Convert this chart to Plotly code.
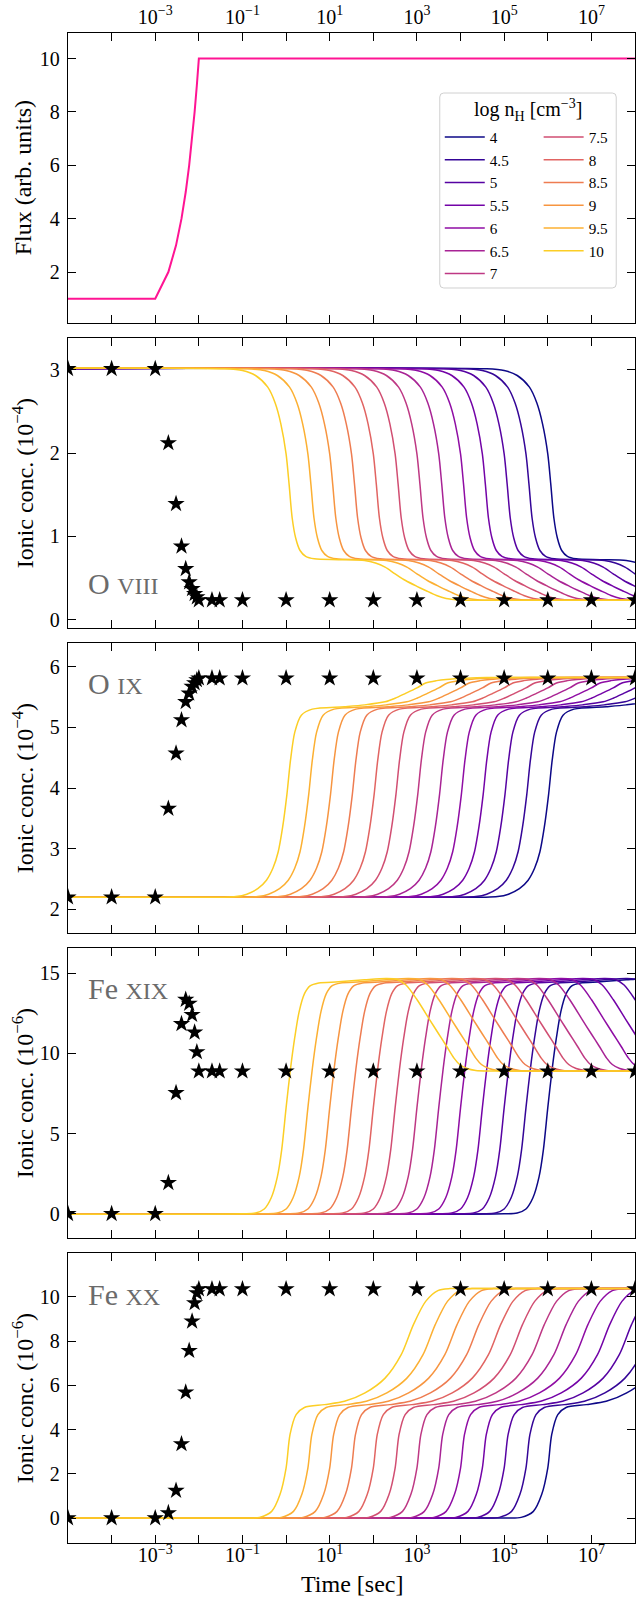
import plotly.graph_objects as go

FONT = "Liberation Serif"
W, H = 636, 1601
L, R, T, B = 67.7, 635.5, 33.3, 1543.3
PANEL_H, PANEL_GAP = 290.0, 15.0

# densities and their line colours (plasma)
log_nH = [4, 4.5, 5, 5.5, 6, 6.5, 7, 7.5, 8, 8.5, 9, 9.5, 10]
line_colors = ["#0d0887", "#340597", "#5602a2", "#7303a7", "#8f0da4", "#a82395",
               "#be3884", "#d14e72", "#e16462", "#ee7c51", "#f79540", "#fcb032", "#fcce25"]
REF_LOG_NH = 10  # profiles below are tabulated for log nH = 10; time scales as 1/n

# snapshot times (flux steps and equilibrium points)
snap_t = [1e-5, 1e-4, 1e-3, 2e-3, 3e-3, 4e-3, 5e-3, 6e-3, 7e-3, 8e-3, 9e-3, 1e-2,
          2e-2, 3e-2, 1e-1, 1e0, 1e1, 1e2, 1e3, 1e4, 1e5, 1e6, 1e7, 1e8]
flux = [1, 1, 1, 2, 3, 4, 5, 6, 7, 8, 9, 10,
        10, 10, 10, 10, 10, 10, 10, 10, 10, 10, 10, 10]

# equilibrium concentrations at the snapshot times
eq_o8 = [3.01, 3.01, 3.01, 2.12, 1.39, 0.88, 0.61, 0.45, 0.37, 0.31, 0.27, 0.235,
         0.235, 0.235, 0.235, 0.235, 0.235, 0.235, 0.235, 0.235, 0.235, 0.235, 0.235, 0.235]
eq_o9 = [2.2, 2.2, 2.2, 3.66, 4.57, 5.12, 5.42, 5.56, 5.67, 5.73, 5.78, 5.81,
         5.81, 5.81, 5.81, 5.81, 5.81, 5.81, 5.81, 5.81, 5.81, 5.81, 5.81, 5.81]
eq_fe19 = [0.0, 0.0, 0.0, 1.93, 7.53, 11.83, 13.34, 13.1, 12.4, 11.3, 10.08, 8.88,
           8.88, 8.88, 8.88, 8.88, 8.88, 8.88, 8.88, 8.88, 8.88, 8.88, 8.88, 8.88]
eq_fe20 = [0.0, 0.0, 0.0, 0.23, 1.24, 3.35, 5.69, 7.57, 8.9, 9.73, 10.18, 10.36,
           10.36, 10.36, 10.36, 10.36, 10.36, 10.36, 10.36, 10.36, 10.36, 10.36, 10.36, 10.36]

# time-dependent concentrations at log nH = 10 (log10 t [s], value)
o8_logt = [-11, -1.4, -1.0, -0.7, -0.42, -0.25, -0.12, 0.0, 0.07, 0.14, 0.22, 0.32, 0.45,
           0.65, 1.2, 1.8, 2.05, 2.27, 2.5, 2.74, 3.0, 3.2, 3.45, 3.67, 3.94, 4.4, 8.6]
o8_val = [3.01, 3.01, 2.99, 2.93, 2.79, 2.6, 2.35, 1.99, 1.62, 1.22, 0.98, 0.83, 0.76,
          0.73, 0.72, 0.71, 0.68, 0.63, 0.55, 0.47, 0.4, 0.35, 0.29, 0.255, 0.237, 0.233, 0.233]

o9_logt = [-11, -1.5, -1.15, -0.9, -0.65, -0.45, -0.3, -0.18, -0.08, 0.02, 0.1, 0.2,
           0.35, 0.6, 1.34, 1.8, 2.27, 2.5, 2.74, 3.0, 3.2, 3.45, 3.67, 4.13, 4.6, 8.6]
o9_val = [2.2, 2.2, 2.21, 2.25, 2.34, 2.48, 2.68, 2.95, 3.35, 3.9, 4.45, 4.92,
          5.2, 5.3, 5.34, 5.37, 5.42, 5.48, 5.56, 5.65, 5.73, 5.77, 5.79, 5.81, 5.82, 5.82]

fe19_logt = [-11, -1.0, -0.7, -0.5, -0.34, -0.2, -0.1, 0.0, 0.1, 0.2, 0.3, 0.42, 0.55,
             0.75, 1.2, 1.8, 2.3, 2.55, 2.75, 3.0, 3.29, 3.5, 3.68, 3.85, 3.98, 4.15,
             4.35, 4.7, 8.6]
fe19_val = [0.0, 0.0, 0.05, 0.3, 1.0, 2.3, 4.0, 6.6, 9.0, 11.0, 12.6, 13.7, 14.2,
            14.38, 14.45, 14.58, 14.66, 14.6, 14.25, 13.35, 12.1, 11.2, 10.44, 9.7, 9.3, 9.05,
            8.93, 8.9, 8.9]

fe20_logt = [-11, -1.0, -0.61, -0.33, -0.14, 0.0, 0.09, 0.23, 0.42, 0.88, 1.34, 1.81,
             2.27, 2.64, 2.92, 3.2, 3.48, 3.76, 4.3, 8.6]
fe20_val = [0.0, 0.0, 0.03, 0.3, 1.06, 2.26, 3.77, 4.68, 5.0, 5.13, 5.28, 5.66,
            6.33, 7.39, 8.75, 9.8, 10.29, 10.38, 10.38, 10.38]

panels = [
    dict(title="Flux (arb. units)", yrange=[0.09, 10.96], ticks=[2, 4, 6, 8, 10]),
    dict(title="Ionic conc. (10<sup>−4</sup>)", yrange=[-0.1, 3.38], ticks=[0, 1, 2, 3],
         ion="O", stage="VIII", logt=o8_logt, val=o8_val, eq=eq_o8, label_y=583.5),
    dict(title="Ionic conc. (10<sup>−4</sup>)", yrange=[1.61, 6.39], ticks=[2, 3, 4, 5, 6],
         ion="O", stage="IX", logt=o9_logt, val=o9_val, eq=eq_o9, label_y=683.5),
    dict(title="Ionic conc. (10<sup>−6</sup>)", yrange=[-1.51, 16.56], ticks=[0, 5, 10, 15],
         ion="Fe", stage="XIX", logt=fe19_logt, val=fe19_val, eq=eq_fe19, label_y=988.5),
    dict(title="Ionic conc. (10<sup>−6</sup>)", yrange=[-1.13, 11.99], ticks=[0, 2, 4, 6, 8, 10],
         ion="Fe", stage="XX", logt=fe20_logt, val=fe20_val, eq=eq_fe20, label_y=1294.5),
]

major_dec = [-3, -1, 1, 3, 5, 7]       # labelled decades
minor_dec = [-4, -2, 0, 2, 4, 6]       # unlabelled decade ticks


def px(xp, yp):
    """pixel position -> paper coordinates"""
    return (xp - L) / (R - L), 1 - (yp - T) / (B - T)


def fmt(n):
    return f"{n:g}"


fig = go.Figure()

axis_style = dict(showline=True, linecolor="black", linewidth=1.3, mirror="allticks",
                  ticks="inside", ticklen=8, tickwidth=1.1, tickcolor="black",
                  showgrid=False, zeroline=False,
                  tickfont=dict(family=FONT, size=20, color="black"))

layout = {}
for i, p in enumerate(panels):
    k = "" if i == 0 else str(i + 1)
    top = T + i * (PANEL_H + PANEL_GAP)
    d0 = 1 - (top + PANEL_H - T) / (B - T)
    d1 = 1 - (top - T) / (B - T)
    xa = dict(axis_style, type="log", range=[-5, 8], domain=[0, 1], anchor="y" + k,
              tickmode="array", tickvals=[10.0 ** e for e in major_dec],
              ticktext=[f"10<sup>{'−' if e < 0 else ''}{abs(e)}</sup>" for e in major_dec],
              minor=dict(tickmode="array", tickvals=[10.0 ** e for e in minor_dec],
                         ticks="inside", ticklen=8, tickwidth=1.1, tickcolor="black",
                         showgrid=False))
    if i == 0:
        xa["side"] = "top"
        xa["ticklabelstandoff"] = 0
    elif i < len(panels) - 1:
        xa["showticklabels"] = False
    else:
        xa["ticklabelstandoff"] = -6
    ya = dict(axis_style, range=p["yrange"], domain=[d0, d1], anchor="x" + k,
              tickmode="array", tickvals=p["ticks"], ticklabelstandoff=3)
    layout["xaxis" + k] = xa
    layout["yaxis" + k] = ya

    xref, yref = "x" + k, "y" + k
    if i == 0:
        fig.add_trace(go.Scatter(x=snap_t, y=flux, mode="lines", showlegend=False,
                                 line=dict(color="#ff1493", width=2),
                                 xaxis=xref, yaxis=yref))
        continue

    for j, (n, c) in enumerate(zip(log_nH, line_colors)):
        shift = REF_LOG_NH - n
        fig.add_trace(go.Scatter(
            x=[10.0 ** (lt + shift) for lt in p["logt"]], y=p["val"], mode="lines",
            line=dict(color=c, width=1.5, shape="spline", smoothing=0.8),
            name=fmt(n), showlegend=(i == 1),
            legend="legend" if j < 7 else "legend2",
            xaxis=xref, yaxis=yref))
    fig.add_trace(go.Scatter(x=snap_t, y=p["eq"], mode="markers", showlegend=False,
                             marker=dict(symbol="star", size=13, color="black",
                                         line=dict(width=0)),
                             xaxis=xref, yaxis=yref))

annotations = []
for i, p in enumerate(panels):
    top = T + i * (PANEL_H + PANEL_GAP)
    ax, ay = px(23, top + PANEL_H / 2)
    annotations.append(dict(text=p["title"], x=ax, y=ay, xref="paper", yref="paper",
                            textangle=-90, showarrow=False, xanchor="center", yanchor="middle",
                            font=dict(family=FONT, size=24, color="black")))
    if "ion" in p:
        lx, ly = px(86, p["label_y"])
        annotations.append(dict(
            text=f"{p['ion']} <span style='font-size:24px'>{p['stage']}</span>",
            x=lx, y=ly, xref="paper", yref="paper", showarrow=False,
            xanchor="left", yanchor="middle",
            font=dict(family=FONT, size=30, color="#6b6b6b")))

tx, ty = px(351.6, 1584)
annotations.append(dict(text="Time [sec]", x=tx, y=ty, xref="paper", yref="paper",
                        showarrow=False, xanchor="center", yanchor="middle",
                        font=dict(family=FONT, size=24, color="black")))

# legend frame and title
bx0, by0, bx1, by1, rr = 440, 93.3, 616.7, 288.3, 4
pts = [("M", bx0 + rr, by0), ("L", bx1 - rr, by0), ("Q", bx1, by0, bx1, by0 + rr),
       ("L", bx1, by1 - rr), ("Q", bx1, by1, bx1 - rr, by1), ("L", bx0 + rr, by1),
       ("Q", bx0, by1, bx0, by1 - rr), ("L", bx0, by0 + rr), ("Q", bx0, by0, bx0 + rr, by0)]
path = ""
for cmd, *xy in pts:
    coords = []
    for a, b in zip(xy[0::2], xy[1::2]):
        pa, pb = px(a, b)
        coords.append(f"{pa:.5f},{pb:.5f}")
    path += cmd + " ".join(coords) + " "
path += "Z"
shapes = [dict(type="path", path=path, xref="paper", yref="paper", layer="above",
               fillcolor="rgba(255,255,255,0.8)", line=dict(color="#d0d0d0", width=1))]

ltx, lty = px(528, 110)
annotations.append(dict(text="log n<sub>H</sub> [cm<sup>−3</sup>]", x=ltx, y=lty,
                        xref="paper", yref="paper", showarrow=False,
                        xanchor="center", yanchor="middle",
                        font=dict(family=FONT, size=20, color="black")))

leg_font = dict(family=FONT, size=15.2, color="black")
lg1x, lgy = px(440, 120.9)
lg2x, _ = px(539, 120.9)

fig.update_layout(
    **layout,
    width=W, height=H, autosize=False,
    margin=dict(l=L, r=W - R, t=T, b=H - B, pad=0),
    paper_bgcolor="white", plot_bgcolor="white",
    font=dict(family=FONT, size=20, color="black"),
    annotations=annotations, shapes=shapes,
    legend=dict(x=lg1x, y=lgy, xanchor="left", yanchor="top", bgcolor="rgba(0,0,0,0)",
                borderwidth=0, font=leg_font, tracegroupgap=0, itemwidth=40),
    legend2=dict(x=lg2x, y=lgy, xanchor="left", yanchor="top", bgcolor="rgba(0,0,0,0)",
                 borderwidth=0, font=leg_font, tracegroupgap=0, itemwidth=40),
)

fig.write_html("out.html")
